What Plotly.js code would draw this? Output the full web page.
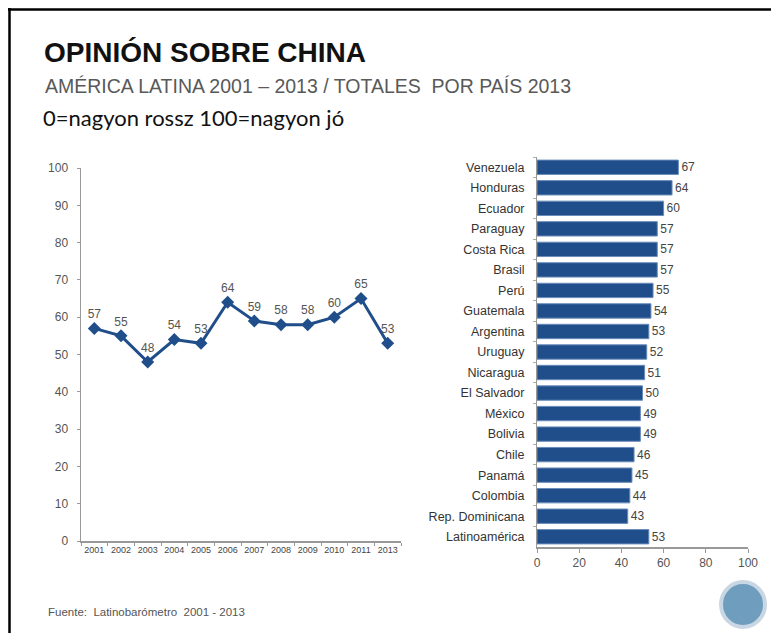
<!DOCTYPE html>
<html><head><meta charset="utf-8">
<script src="https://cdn.plot.ly/plotly-3.0.1.min.js"></script>
<style>html,body{margin:0;padding:0;background:#fff}#chart{width:771px;height:633px}</style>
</head><body><div id="chart"></div>
<script>
var years = ["2001","2002","2003","2004","2005","2006","2007","2008","2009","2010","2011","2013"];
var yearValues = [57,55,48,54,53,64,59,58,58,60,65,53];
var countries = ["Venezuela","Honduras","Ecuador","Paraguay","Costa Rica","Brasil","Perú","Guatemala","Argentina","Uruguay","Nicaragua","El Salvador","México","Bolivia","Chile","Panamá","Colombia","Rep. Dominicana","Latinoamérica"];
var countryValues = [67,64,60,57,57,57,55,54,53,52,51,50,49,49,46,45,44,43,53];
var yTicks = [0,10,20,30,40,50,60,70,80,90,100];
var xTicks2 = [0,20,40,60,80,100];

var W = 771, H = 633;
function px(x){return x/W;}
function py(y){return 1 - y/H;}
var blue = "#1f4e8a";
var FONT = "Liberation Sans, Arial, sans-serif";

var line = {
  type:"scatter", mode:"lines+markers+text",
  x: years, y: yearValues, text: yearValues.map(String),
  textposition:"top center",
  textfont:{family:FONT, size:12, color:"#555"},
  line:{color:blue, width:3},
  marker:{symbol:"diamond", size:10, color:blue},
  xaxis:"x", yaxis:"y", cliponaxis:false, hoverinfo:"skip"
};
var bars = {
  type:"bar", orientation:"h",
  x: countryValues, y: countries, text: countryValues.map(String),
  textposition:"outside",
  textfont:{family:FONT, size:12, color:"#444"},
  marker:{color:blue, line:{color:"#6a8cba", width:1}},
  width:0.7, xaxis:"x2", yaxis:"y2", cliponaxis:false, hoverinfo:"skip"
};

var layout = {
  width:W, height:H, margin:{l:0,r:0,t:0,b:0},
  paper_bgcolor:"#fff", plot_bgcolor:"rgba(0,0,0,0)",
  showlegend:false,
  xaxis:{domain:[px(81),px(401)], type:"category", range:[-0.5,11.5],
    showline:true, linecolor:"#999", linewidth:1.5, ticks:"outside", ticklen:3, tickcolor:"#999",
    tickson:"boundaries", showgrid:false, zeroline:false, fixedrange:true,
    tickfont:{family:FONT, size:9, color:"#444"}, tickangle:0, anchor:"y"},
  yaxis:{domain:[py(541),py(168)], range:[0,100], tickvals:yTicks,
    showline:true, linecolor:"#999", linewidth:1.5, ticks:"outside", ticklen:3, tickcolor:"#999",
    ticklabelstandoff:6,
    showgrid:false, zeroline:false, fixedrange:true, tickfont:{family:FONT, size:12, color:"#555"},
    anchor:"x"},
  xaxis2:{domain:[px(537),px(748)], range:[0,100], tickvals:xTicks2,
    showline:true, linecolor:"#999", linewidth:1.5, ticks:"outside", ticklen:4, tickcolor:"#999",
    showgrid:false, zeroline:false, fixedrange:true, tickfont:{family:FONT, size:12, color:"#555"},
    anchor:"y2"},
  yaxis2:{domain:[py(547),py(157)], type:"category", autorange:"reversed",
    showline:true, linecolor:"#999", linewidth:1, ticks:"outside", ticklen:3, tickcolor:"#aaa",
    ticklabelstandoff:9,
    tickson:"boundaries", showgrid:false, zeroline:false, fixedrange:true,
    tickfont:{family:FONT, size:12.5, color:"#333"}, anchor:"x2"},
  annotations:[
    {text:"<b>OPINIÓN SOBRE CHINA</b>", xref:"paper", yref:"paper", x:px(42), y:py(53), xanchor:"left", yanchor:"middle", showarrow:false,
      font:{family:FONT, size:28, color:"#111"}},
    {text:"AMÉRICA LATINA 2001 – 2013 / TOTALES  POR PAÍS 2013", xref:"paper", yref:"paper", x:px(43), y:py(86), xanchor:"left", yanchor:"middle", showarrow:false,
      font:{family:FONT, size:19.5, color:"#595959"}},
    {text:"0=nagyon rossz 100=nagyon jó", xref:"paper", yref:"paper", x:px(41), y:py(118), xanchor:"left", yanchor:"middle", showarrow:false,
      font:{family:"Lato, sans-serif", size:22, color:"#111"}},
    {text:"Fuente:  Latinobarómetro  2001 - 2013", xref:"paper", yref:"paper", x:px(46), y:py(612), xanchor:"left", yanchor:"middle", showarrow:false,
      font:{family:FONT, size:11.5, color:"#555"}}
  ],
  shapes:[
    {type:"line", xref:"paper", yref:"paper", x0:px(8), x1:1, y0:py(9.5), y1:py(9.5), line:{color:"#000", width:2.5}},
    {type:"line", xref:"paper", yref:"paper", x0:px(9.5), x1:px(9.5), y0:py(8), y1:0, line:{color:"#000", width:2.5}},
    {type:"circle", xref:"paper", yref:"paper", x0:px(721), x1:px(765), y0:py(582), y1:py(627), fillcolor:"#6e9dbd", line:{color:"#c8d7e3", width:4}}
  ]
};
Plotly.newPlot("chart", [line, bars], layout, {staticPlot:true, displayModeBar:false});
</script></body></html>
